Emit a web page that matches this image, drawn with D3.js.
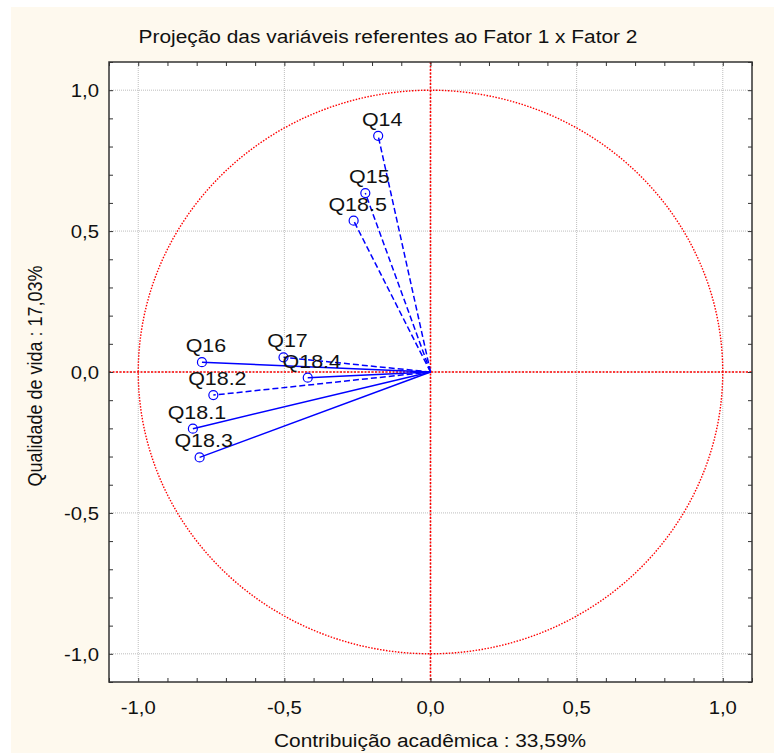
<!DOCTYPE html>
<meta charset="utf-8">
<html>
<head>
<style>
  body { margin: 0; background: #fff; }
  text { font-family: "Liberation Sans", Arial, sans-serif; fill: #111; }
</style>
</head>
<body>
<div id="chart"></div>
<script src="https://d3js.org/d3.v7.min.js"></script>
<script>

  // variables (factor loadings)
  var names  = ["Q14", "Q15", "Q18.5", "Q16", "Q17", "Q18.4", "Q18.2", "Q18.1", "Q18.3"];
  var fator1 = [-0.179, -0.223, -0.263, -0.782, -0.503, -0.420, -0.743, -0.813, -0.790];
  var fator2 = [0.838, 0.635, 0.537, 0.035, 0.052, -0.020, -0.082, -0.201, -0.303];
  var dashed = [true, true, true, false, true, false, true, false, false];

  var majorTicks = [-1.0, -0.5, 0.0, 0.5, 1.0];
  var minorTicks = d3.range(-11, 12).map(function(i) { return i / 10; });

  var W = 774, H = 753;
  var plot = {left: 109, right: 752, top: 62, bottom: 682};
  var stretch = 1.16;   // the original's lettering is a bit wide

  var svg = d3.select("#chart")
    .append("svg")
      .attr("width", W)
      .attr("height", H);

  // cream page
  svg.append("rect")
    .attr("x", 11).attr("y", 7)
    .attr("width", W - 11).attr("height", H - 7)
    .attr("fill", "#fef9ee");

  svg.append("rect")
    .attr("x", plot.left).attr("y", plot.top)
    .attr("width", plot.right - plot.left).attr("height", plot.bottom - plot.top)
    .attr("fill", "#fff");

  var x = d3.scaleLinear().domain([-1.1, 1.1]).range([plot.left, plot.right]);
  var y = d3.scaleLinear().domain([-1.1, 1.1]).range([plot.bottom, plot.top]);

  var fmt = function(d) { return d3.format(".1f")(d).replace(".", ",").replace("−", "-"); };

  function wide(sel, px, py) {
    return sel.attr("transform", function(d, i) {
      var a = typeof px === "function" ? px(d, i) : px;
      var b = typeof py === "function" ? py(d, i) : py;
      return "translate(" + a + "," + b + ") scale(" + stretch + ",1)";
    });
  }

  // grid
  svg.append("g").selectAll("line")
    .data(majorTicks).enter().append("line")
      .attr("x1", function(d) { return x(d); }).attr("x2", function(d) { return x(d); })
      .attr("y1", plot.top).attr("y2", plot.bottom)
      .attr("stroke", "#bdbdbd").attr("stroke-dasharray", "1,1");
  svg.append("g").selectAll("line")
    .data(majorTicks).enter().append("line")
      .attr("y1", function(d) { return y(d); }).attr("y2", function(d) { return y(d); })
      .attr("x1", plot.left).attr("x2", plot.right)
      .attr("stroke", "#bdbdbd").attr("stroke-dasharray", "1,1");

  // red zero lines and unit circle
  svg.append("line")
    .attr("x1", x(0)).attr("x2", x(0)).attr("y1", plot.top).attr("y2", plot.bottom)
    .attr("stroke", "#ff0000").attr("stroke-width", 1.6).attr("stroke-dasharray", "2,1.5");
  svg.append("line")
    .attr("y1", y(0)).attr("y2", y(0)).attr("x1", plot.left).attr("x2", plot.right)
    .attr("stroke", "#ff0000").attr("stroke-width", 1.6).attr("stroke-dasharray", "2,1.5");

  var circle = d3.range(0, 361, 2).map(function(a) {
    var r = a * Math.PI / 180;
    return [Math.cos(r), Math.sin(r)];
  });
  svg.append("path")
    .datum(circle)
    .attr("fill", "none")
    .attr("stroke", "#ff0000").attr("stroke-width", 1.4).attr("stroke-dasharray", "1.5,1.5")
    .attr("d", d3.line().x(function(d) { return x(d[0]); }).y(function(d) { return y(d[1]); }));

  // axes with inward ticks on all sides
  svg.append("g").attr("transform", "translate(0," + plot.bottom + ")")
    .call(d3.axisTop(x).tickValues(minorTicks).tickSize(4).tickFormat(""));
  svg.append("g").attr("transform", "translate(0," + plot.top + ")")
    .call(d3.axisBottom(x).tickValues(minorTicks).tickSize(4).tickFormat(""));
  svg.append("g").attr("transform", "translate(" + plot.left + ",0)")
    .call(d3.axisRight(y).tickValues(minorTicks).tickSize(4).tickFormat(""));
  svg.append("g").attr("transform", "translate(" + plot.right + ",0)")
    .call(d3.axisLeft(y).tickValues(minorTicks).tickSize(4).tickFormat(""));
  svg.selectAll(".domain").remove();
  svg.selectAll(".tick line").attr("stroke", "#333");

  // frame
  svg.append("rect")
    .attr("x", plot.left).attr("y", plot.top)
    .attr("width", plot.right - plot.left).attr("height", plot.bottom - plot.top)
    .attr("fill", "none").attr("stroke", "#333").attr("stroke-width", 1.5);

  // tick labels
  wide(svg.append("g").selectAll("text")
    .data(majorTicks).enter().append("text"),
      function(d) { return x(d); }, 714)
      .attr("text-anchor", "middle")
      .style("font-size", "17.5px")
      .text(fmt);
  wide(svg.append("g").selectAll("text")
    .data(majorTicks).enter().append("text"),
      99, function(d) { return y(d) + 7; })
      .attr("text-anchor", "end")
      .style("font-size", "17.5px")
      .text(fmt);

  // title and axis labels
  wide(svg.append("text"), 388, 43)
    .attr("text-anchor", "middle")
    .style("font-size", "18px")
    .text("Projeção das variáveis referentes ao Fator 1 x Fator 2");
  wide(svg.append("text"), 430, 747)
    .attr("text-anchor", "middle")
    .style("font-size", "18px")
    .text("Contribuição acadêmica : 33,59%");
  svg.append("text")
    .attr("transform", "translate(42," + 376 + ") rotate(-90) scale(1," + stretch + ")")
    .attr("text-anchor", "middle")
    .style("font-size", "18px")
    .text("Qualidade de vida : 17,03%");

  // vectors
  var idx = d3.range(names.length);
  svg.append("g").selectAll("line")
    .data(idx).enter().append("line")
      .attr("x1", x(0)).attr("y1", y(0))
      .attr("x2", function(i) { return x(fator1[i]); })
      .attr("y2", function(i) { return y(fator2[i]); })
      .attr("stroke", "#0000ff").attr("stroke-width", 1.5)
      .attr("stroke-dasharray", function(i) { return dashed[i] ? "6,3" : null; });

  svg.append("g").selectAll("circle")
    .data(idx).enter().append("circle")
      .attr("cx", function(i) { return x(fator1[i]); })
      .attr("cy", function(i) { return y(fator2[i]); })
      .attr("r", 4.5)
      .attr("fill", "none").attr("stroke", "#0000ff").attr("stroke-width", 1.2);

  wide(svg.append("g").selectAll("text")
    .data(idx).enter().append("text"),
      function(i) { return x(fator1[i]) + 4; },
      function(i) { return y(fator2[i]) - 10; })
      .attr("text-anchor", "middle")
      .style("font-size", "18.5px")
      .text(function(i) { return names[i]; });

</script>
</body>
</html>
